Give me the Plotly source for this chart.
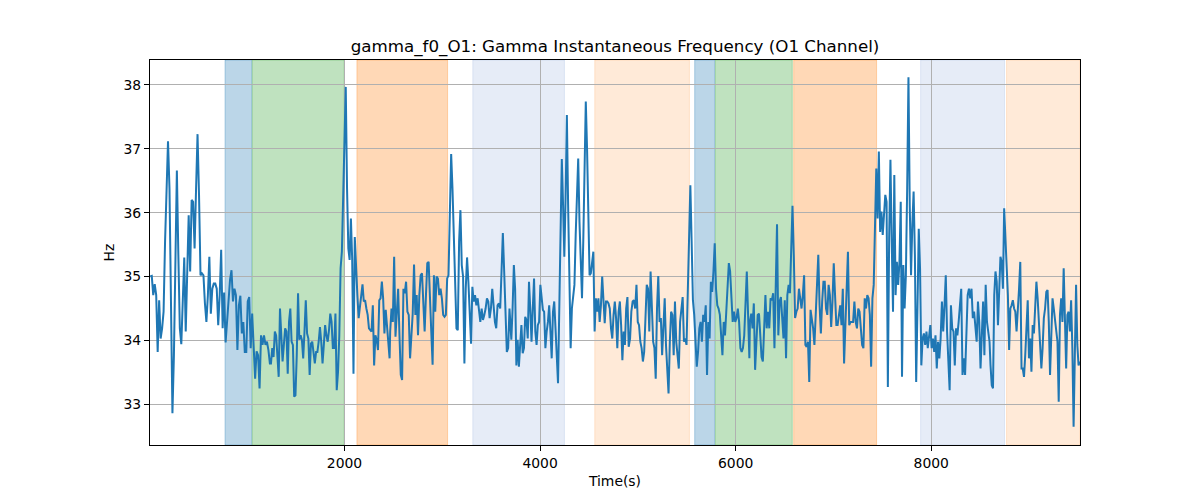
import numpy as np
import plotly.graph_objects as go

# ---------------- data ----------------
freq_part1 = [35.00, 35.01, 34.71, 34.88, 34.71, 33.82, 34.63, 34.03, 34.19, 34.45, 35.55, 36.38, 37.12, 36.38,
              34.29, 32.86, 33.77, 35.34, 36.66, 35.34, 34.19, 33.94, 34.71, 35.30, 34.14, 35.13, 35.96, 35.08,
              36.20, 36.17, 35.44, 36.38, 37.23, 36.28, 35.02, 35.05, 35.02, 34.58, 34.29, 34.71, 35.31, 34.42,
              34.81, 34.89, 34.89, 34.81, 34.24, 34.71, 35.42, 34.19, 34.75, 33.97, 34.35, 34.61, 34.95, 35.10,
              34.61, 34.81, 34.71, 33.85, 34.55, 34.70, 34.11, 34.29, 33.82, 33.82, 34.61, 34.68, 33.88, 34.42,
              33.77, 33.40, 33.83, 33.77, 33.25, 34.08, 33.93, 34.08, 33.93, 33.98, 33.85, 33.64]
freq_part2 = [33.64, 33.88, 33.74, 34.14, 34.08, 33.77, 33.43, 34.50, 33.98, 33.67, 33.93, 34.19, 34.14, 33.48,
              34.29, 34.50, 33.98, 33.93, 33.12, 33.14, 33.77, 34.74, 34.01, 34.08, 34.01, 33.72, 34.14, 34.63,
              34.11, 34.03, 33.46, 33.95, 33.98, 33.80, 33.64, 33.82, 33.82, 33.98, 34.21, 33.98, 33.64, 33.93,
              34.24, 34.08, 33.98, 34.16, 34.42, 34.29, 33.88, 33.88, 34.42, 33.22, 33.51, 34.08, 35.13, 35.39,
              36.28, 37.53, 37.97, 36.38, 35.44, 35.26, 35.91, 35.26, 33.48, 35.62, 35.08, 34.71, 34.35, 34.50,
              34.66, 34.88, 34.61, 34.63, 34.50, 34.40, 34.19, 34.16, 34.14, 34.55, 33.61, 34.08, 34.01, 33.85,
              34.63, 34.66, 34.92, 34.66, 34.11, 34.48, 34.19, 33.90, 33.72]
freq_part3 = [34.14, 34.50, 34.29, 35.31, 34.06, 34.40, 34.81, 34.08, 33.46, 33.38, 34.81, 34.74, 34.92, 34.45,
              34.40, 33.72, 34.03, 34.42, 35.19, 34.40, 34.71, 34.08, 34.71, 35.02, 35.05, 34.66, 34.14, 34.71,
              35.21, 35.23, 34.50, 34.14, 33.62, 35.02, 34.45, 35.00, 34.97, 34.71, 34.81, 34.66, 34.40, 34.37,
              34.40, 34.97, 35.02, 36.17, 36.92, 36.38, 35.55, 34.92, 34.19, 34.16, 35.55, 36.04, 35.18, 35.00,
              33.64, 34.81, 35.30, 34.92, 34.29, 33.95, 34.84, 34.61, 34.71, 34.55, 34.66, 34.45, 34.29, 34.50,
              34.32, 34.40, 34.50, 34.66, 34.61, 34.35, 34.50, 34.81, 34.50, 34.29, 34.19, 34.55, 34.58, 34.50,
              35.08, 35.68, 35.08, 34.50, 33.82, 33.88, 34.50]
freq_part4 = [34.35, 34.01, 34.50, 35.18, 34.81, 33.61, 34.01, 33.59, 33.93, 34.24, 33.80, 33.88, 34.37, 34.32,
              34.03, 34.92, 34.50, 33.98, 34.50, 34.97, 34.14, 33.93, 34.24, 34.29, 34.87, 34.71, 34.48, 34.45,
              33.88, 34.14, 34.29, 34.55, 34.14, 33.72, 34.45, 34.61, 34.19, 33.82, 33.33, 34.50, 35.55, 36.84,
              36.12, 35.31, 36.22, 37.53, 36.12, 34.61, 33.88, 34.50, 34.66, 34.87, 35.65, 36.28, 36.85, 35.86,
              35.23, 34.66, 35.55, 36.75, 37.74, 37.01, 36.17, 35.02, 35.05, 35.23, 35.39, 34.14, 34.66, 34.45,
              34.66, 34.29, 34.55, 35.00, 34.61, 34.27, 34.61, 34.61, 34.58, 34.50, 34.19, 34.03, 34.40, 34.61,
              34.35, 33.88, 34.45, 34.61, 34.24, 33.69, 34.14, 33.93, 34.50, 34.68, 33.90]
freq_part5 = [34.03, 34.45, 34.61, 34.63, 34.50, 34.87, 34.29, 34.24, 33.98, 33.88, 33.67, 33.82, 34.24, 34.87,
              34.81, 34.14, 35.08, 34.61, 33.98, 33.88, 33.40, 34.50, 35.01, 34.29, 34.35, 33.77, 34.29, 34.66,
              33.93, 33.61, 33.17, 33.98, 34.45, 34.40, 33.77, 34.61, 33.98, 33.77, 33.56, 34.29, 34.55, 34.68,
              33.98, 34.03, 33.93, 34.92, 35.44, 36.43, 35.55, 34.63, 34.40, 33.98, 33.59, 33.82, 34.19, 34.29,
              33.98, 34.40, 34.29, 34.55, 33.46, 34.29, 34.03, 34.92, 34.76, 35.08, 35.52, 34.81, 34.55, 34.50,
              34.40, 34.08, 33.77, 34.29, 34.08, 34.45, 34.81, 35.21, 35.08, 34.71, 34.29, 34.45, 34.29, 34.35,
              34.50, 34.29, 33.88, 33.82, 33.88, 34.08, 34.50, 35.08, 34.40, 33.72]
freq_part6 = [34.29, 34.42, 34.19, 34.58, 33.54, 34.03, 34.40, 34.42, 33.98, 33.74, 33.67, 34.40, 34.71, 34.19,
              34.45, 34.19, 34.66, 34.63, 34.74, 33.88, 34.71, 35.82, 34.08, 34.61, 34.68, 34.35, 34.03, 34.63,
              33.72, 34.71, 34.87, 34.74, 35.39, 36.11, 35.34, 34.35, 34.45, 34.50, 34.81, 34.66, 34.50, 34.71,
              35.02, 33.93, 33.90, 33.98, 33.35, 34.48, 34.35, 34.19, 33.93, 34.40, 34.92, 35.34, 34.55, 34.11,
              34.61, 34.92, 34.92, 34.50, 34.40, 34.87, 34.71, 34.21, 34.61, 35.21, 34.71, 34.24, 34.24, 34.45,
              34.55, 34.24, 34.81, 33.64, 34.29, 34.61, 35.39, 34.24, 34.29, 34.29, 34.29, 34.61, 34.29, 34.19,
              34.50, 34.45, 34.14, 33.93, 33.88, 34.66, 34.50, 34.71, 34.66]
freq_part7 = [34.40, 33.59, 34.66, 34.87, 35.96, 36.69, 35.91, 36.96, 35.70, 36.02, 35.65, 36.07, 36.28, 36.17,
              33.27, 35.60, 36.83, 35.55, 34.45, 36.59, 34.71, 35.23, 34.87, 35.23, 36.17, 33.43, 35.18, 34.50,
              35.02, 36.38, 38.12, 36.12, 35.02, 35.81, 36.33, 35.34, 33.35, 34.50, 35.75, 35.13, 33.61, 34.03,
              34.11, 33.93, 34.14, 33.88, 34.08, 34.24, 33.88, 34.03, 33.82, 34.08, 33.56, 33.98, 33.72, 34.03,
              34.61, 34.14, 34.55, 35.02, 34.14, 33.77, 33.22, 34.55, 34.19, 34.14, 33.61, 34.19, 34.08, 34.29,
              34.63, 34.81, 33.46, 33.72, 33.46, 34.19, 34.71, 34.81, 34.66, 34.81, 34.35, 34.45, 34.24, 33.98,
              34.61, 34.29, 33.56, 34.24, 34.61, 33.77, 34.87, 34.29, 34.14, 33.98]
freq_part8 = [33.61, 33.30, 33.25, 34.71, 35.08, 34.92, 34.24, 34.87, 35.31, 35.23, 34.81, 36.07, 35.55, 35.13,
              34.71, 33.85, 34.50, 34.55, 34.63, 34.50, 34.45, 34.14, 34.40, 34.81, 35.23, 33.56, 33.56, 33.43,
              33.77, 34.35, 34.63, 33.72, 34.03, 33.51, 34.24, 34.11, 34.61, 34.92, 34.66, 34.29, 33.88, 33.56,
              33.88, 34.35, 34.50, 34.76, 34.79, 34.29, 33.46, 34.03, 34.66, 34.50, 34.29, 34.08, 33.98, 33.04,
              34.40, 34.66, 34.29, 35.13, 34.19, 33.56, 34.40, 34.45, 34.14, 34.63, 33.88, 32.65, 33.77, 34.87,
              33.93, 33.61, 33.67]

# time span (s) covered by each part of the recording
part_starts = [14, 1248, 2467, 3693, 4920, 6146, 7372, 8606]
part_ends = [1237, 2461, 3687, 4906, 6140, 7359, 8596, 9519]

x_min, x_max = 11, 9521
y_min, y_max = 32.363, 38.391

# shaded phases
span_starts = [778, 1057, 2127, 3312, 4559, 5581, 5793, 6593, 7891, 8770]
span_ends = [1051, 1997, 3054, 4249, 5527, 5785, 6579, 7441, 8749, 9521]
span_colors = ["31,119,180", "44,160,44", "255,127,14", "60,110,190", "255,127,14",
               "31,119,180", "44,160,44", "255,127,14", "60,110,190", "255,127,14"]
span_alphas = [0.3, 0.3, 0.3, 0.13, 0.16, 0.3, 0.3, 0.3, 0.13, 0.16]

x_ticks = [2000, 4000, 6000, 8000]
y_ticks = [33, 34, 35, 36, 37, 38]

# ---------------- figure ----------------
parts = [freq_part1, freq_part2, freq_part3, freq_part4,
         freq_part5, freq_part6, freq_part7, freq_part8]
time = np.concatenate([np.linspace(s, e, len(p)) for p, s, e in zip(parts, part_starts, part_ends)])
freq = np.concatenate([np.array(p) for p in parts])

FONT = "DejaVu Sans"
fig = go.Figure()
fig.add_trace(go.Scatter(x=time, y=freq, mode="lines",
                         line=dict(color="#1f77b4", width=2.0), showlegend=False))

shapes = []
for s, e, c, a in zip(span_starts, span_ends, span_colors, span_alphas):
    shapes.append(dict(type="rect", xref="x", yref="paper", x0=s, x1=e, y0=0, y1=1,
                       fillcolor=f"rgba({c},{a})", line=dict(color=f"rgba({c},{a})", width=1),
                       layer="below"))

# the page adds an 8px body margin, so margins are shifted accordingly
fig.update_layout(
    width=1200, height=500,
    margin=dict(l=142, r=128, t=52, b=63),
    paper_bgcolor="white", plot_bgcolor="white",
    font=dict(family=FONT, size=13.9, color="black"),
    shapes=shapes,
    title=dict(text="gamma_f0_O1: Gamma Instantaneous Frequency (O1 Channel)",
               x=0.5, xref="paper", xanchor="center", y=1 - 38 / 500, yanchor="middle",
               font=dict(family=FONT, size=16.7, color="black")),
)
fig.update_xaxes(range=[x_min, x_max], tickvals=x_ticks, ticktext=[str(v) for v in x_ticks],
                 showgrid=True, gridcolor="#b0b0b0", gridwidth=1.1,
                 showline=True, linecolor="black", linewidth=1.1, mirror=True,
                 ticks="outside", ticklen=5, tickwidth=1.1, tickcolor="black",
                 tickfont=dict(family=FONT, size=13.9, color="black"),
                 zeroline=False,
                 title=dict(text="Time(s)", standoff=6, font=dict(family=FONT, size=13.9, color="black")))
fig.update_yaxes(range=[y_min, y_max], tickvals=y_ticks, ticktext=[str(v) for v in y_ticks],
                 showgrid=True, gridcolor="#b0b0b0", gridwidth=1.1,
                 showline=True, linecolor="black", linewidth=1.1, mirror=True,
                 ticks="outside", ticklen=5, tickwidth=1.1, tickcolor="black",
                 tickfont=dict(family=FONT, size=13.9, color="black"),
                 zeroline=False,
                 title=dict(text="Hz", standoff=5, font=dict(family=FONT, size=13.9, color="black")))

fig.write_html("out.html")
